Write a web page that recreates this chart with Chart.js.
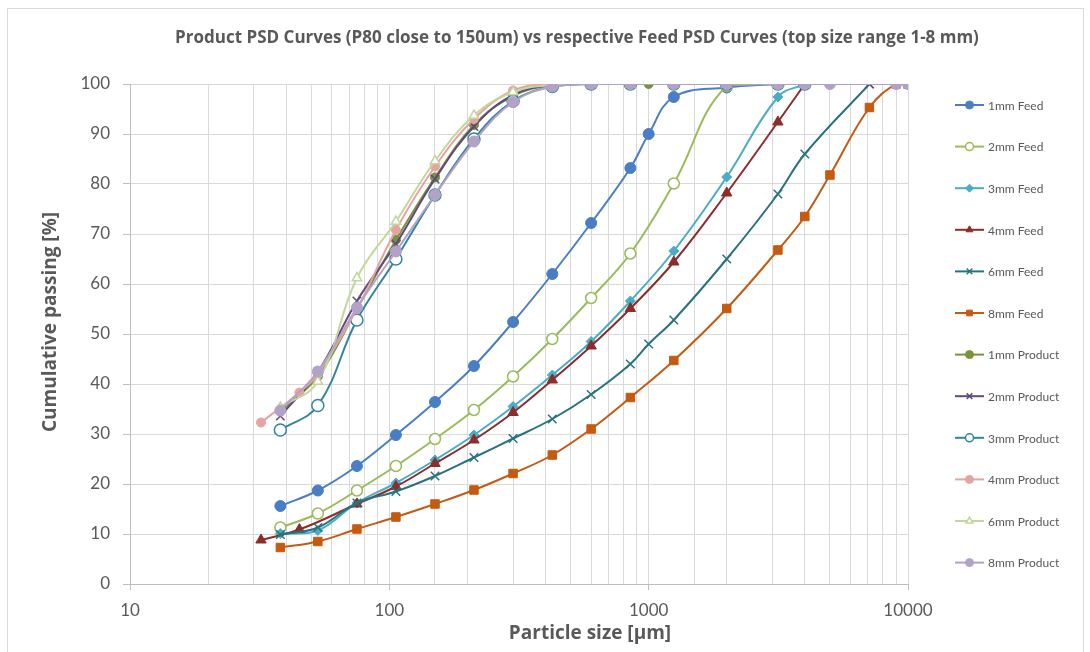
<!DOCTYPE html>
<html>
<head>
<meta charset="utf-8">
<title>PSD Curves</title>
<script src="https://cdn.jsdelivr.net/npm/chart.js@4/dist/chart.umd.min.js"></script>
<style>
  html, body { margin: 0; padding: 0; background: #fff; }
  #wrap { position: relative; width: 1090px; height: 652px; }
</style>
</head>
<body>
<div id="wrap"><canvas id="psdChart"></canvas></div>
<script>
// ── Data ──
const N = null;
const SIEVES = [32, 38, 45, 53, 75, 106, 150, 212, 300, 425, 600, 850, 1000, 1250, 2000, 3150, 4000, 5000, 7100, 9000, 10000];

const feed1mm = [N, 15.6, N, 18.7, 23.6, 29.8, 36.4, 43.6, 52.4, 62.0, 72.2, 83.2, 90.0, 97.4, 99.3, 100, N, N, N, N, N];
const feed2mm = [N, 11.3, N, 14.1, 18.7, 23.6, 29.0, 34.8, 41.5, 49.0, 57.2, 66.1, N, 80.1, 99.6, 100, 100, N, N, N, N];
const feed3mm = [N, 10.1, N, 10.7, 16.2, 20.2, 24.8, 29.8, 35.5, 41.8, 48.5, 56.6, N, 66.6, 81.4, 97.4, 100, N, N, N, N];
const feed4mm = [8.8, N, 10.9, N, 16.0, 19.5, 24.1, 28.8, 34.3, 40.8, 47.6, 55.1, N, 64.4, 78.2, 92.4, 100, N, N, N, N];
const feed6mm = [N, 9.9, N, 11.3, 16.2, 18.5, 21.6, 25.3, 29.1, 33.0, 37.9, 44.0, 48.0, 52.8, 65.0, 78.0, 86.0, N, 100, N, N];
const feed8mm = [N, 7.3, N, 8.5, 11.0, 13.4, 16.0, 18.8, 22.1, 25.8, 31.0, 37.3, N, 44.7, 55.1, 66.8, 73.5, 81.8, 95.3, 100, 100];

const prod1mm = [N, 34.5, N, 41.5, 55.0, 68.8, 81.3, 91.8, 97.6, 99.8, 100, 100, 100, N, N, N, N, N, N, N, N];
const prod2mm = [N, 33.6, N, 42.4, 56.6, 68.0, 81.0, 91.5, 97.8, 99.8, 100, 100, N, 100, 100, 100, 100, N, 100, N, N];
const prod3mm = [N, 30.8, N, 35.7, 52.8, 65.0, 77.8, 89.0, 96.6, 99.5, 100, 100, N, 100, 100, 100, 100, N, N, N, N];
const prod4mm = [32.3, N, 38.3, 42.0, 55.0, 70.8, 83.5, 93.0, 98.7, 100, 100, 100, N, 100, 100, 100, 100, N, N, N, N];
const prod6mm = [N, 35.3, N, 40.5, 61.2, 72.5, 84.6, 93.7, 98.4, 99.8, 100, 100, N, 100, 100, 100, 100, N, N, N, N];
const prod8mm = [N, 34.7, N, 42.5, 55.3, 66.5, 77.8, 88.5, 96.4, 99.5, 100, 100, N, 100, 100, 100, 100, 100, N, 100, 100];

const SERIES = [
  { label: '1mm Feed',    values: feed1mm, color: '#4a7ec4', style: 'circle',   r: 5.5, fill: true },
  { label: '2mm Feed',    values: feed2mm, color: '#9bbb59', style: 'circle',   r: 5.5, fill: false },
  { label: '3mm Feed',    values: feed3mm, color: '#4bacc6', style: 'rectRot',  r: 5,   fill: true },
  { label: '4mm Feed',    values: feed4mm, color: '#8b2d2b', style: 'triangle', r: 6,   fill: true },
  { label: '6mm Feed',    values: feed6mm, color: '#28737f', style: 'crossRot', r: 6,   fill: true },
  { label: '8mm Feed',    values: feed8mm, color: '#c55a11', style: 'rect',     r: 6,   fill: true },
  { label: '1mm Product', values: prod1mm, color: '#77933c', style: 'circle',   r: 4.5, fill: true },
  { label: '2mm Product', values: prod2mm, color: '#604a7b', style: 'crossRot', r: 6,   fill: true },
  { label: '3mm Product', values: prod3mm, color: '#31859c', style: 'circle',   r: 6,   fill: false },
  { label: '4mm Product', values: prod4mm, color: '#e6a3a1', style: 'circle',   r: 4.5, fill: true },
  { label: '6mm Product', values: prod6mm, color: '#c3d69b', style: 'triangle', r: 5.5, fill: false },
  { label: '8mm Product', values: prod8mm, color: '#b3a2c7', style: 'circle',   r: 5.5, fill: true },
];

const TEXT_COLOR = '#595959';
const GRID_COLOR = '#d9d9d9';
const FONT = 'Lato, "Open Sans", sans-serif';
const TITLE_FONT = '"Open Sans", Lato, sans-serif';

function toPoints(values) {
  const pts = [];
  for (let i = 0; i < SIEVES.length; i++) {
    if (values[i] !== null) {
      pts.push({ x: SIEVES[i], y: values[i] });
    }
  }
  return pts;
}

function buildDatasets() {
  return SERIES.map((s, idx) => ({
    label: s.label,
    data: toPoints(s.values),
    borderColor: s.color,
    backgroundColor: s.fill ? s.color : '#ffffff',
    pointBackgroundColor: s.fill ? s.color : '#ffffff',
    pointBorderColor: s.color,
    pointStyle: s.style,
    pointRadius: s.r,
    pointBorderWidth: s.style === 'crossRot' ? 1.5 : (s.fill ? 1 : 1.5),
    borderWidth: 2,
    tension: 0.4,
    fill: false,
    // later series sit on top, like the spreadsheet
    order: SERIES.length - idx,
  }));
}

// ── Title, axis titles, side legend, frame ──
const decorPlugin = {
  id: 'decor',
  afterDraw(chart) {
    const ctx = chart.ctx;
    ctx.save();

    // outer frame
    ctx.strokeStyle = GRID_COLOR;
    ctx.lineWidth = 1;
    ctx.strokeRect(7.5, 8.5, 1076, 660);

    ctx.fillStyle = TEXT_COLOR;
    ctx.textAlign = 'center';
    ctx.textBaseline = 'middle';
    ctx.font = 'bold 17px ' + TITLE_FONT;
    ctx.fillText('Product PSD Curves (P80 close to 150um) vs respective Feed PSD Curves (top size range 1-8 mm)', 577, 38);

    ctx.font = 'bold 19px ' + TITLE_FONT;
    ctx.fillText('Particle size [µm]', 590, 634);

    ctx.save();
    ctx.translate(51, 322);
    ctx.rotate(-Math.PI / 2);
    ctx.fillText('Cumulative passing [%]', 0, 0);
    ctx.restore();

    // legend
    ctx.textAlign = 'left';
    ctx.font = '12px ' + FONT;
    chart.data.datasets.forEach((ds, i) => {
      const y = 105 + i * 41.6;
      ctx.strokeStyle = ds.borderColor;
      ctx.lineWidth = 2;
      ctx.beginPath();
      ctx.moveTo(955, y);
      ctx.lineTo(984, y);
      ctx.stroke();
      ctx.fillStyle = ds.pointBackgroundColor;
      ctx.strokeStyle = ds.pointBorderColor;
      ctx.lineWidth = ds.pointBorderWidth;
      if (Chart.helpers && Chart.helpers.drawPoint) {
        Chart.helpers.drawPoint(ctx, { pointStyle: ds.pointStyle, radius: Math.min(ds.pointRadius, 4), rotation: 0, borderWidth: ds.pointBorderWidth }, 969.5, y);
      }
      ctx.fillStyle = TEXT_COLOR;
      ctx.fillText(ds.label, 988, y + 1);
    });

    ctx.restore();
  }
};

// ── Chart ──
function initChart() {
  const ctx = document.getElementById('psdChart').getContext('2d');
  new Chart(ctx, {
    type: 'line',
    data: { datasets: buildDatasets() },
    options: {
      responsive: true,
      maintainAspectRatio: false,
      animation: false,
      layout: { padding: { left: 0, right: 182, top: 84, bottom: 0 } },
      plugins: {
        legend: { display: false },
        title: { display: false },
        tooltip: { enabled: true },
      },
      scales: {
        x: {
          type: 'logarithmic',
          min: 10,
          max: 10000,
          afterFit: scale => { scale.height = 68; },
          grid: {
            color: GRID_COLOR,
            tickLength: 6,
            tickColor: c => (c.tick && isDecade(c.tick.value)) ? '#bfbfbf' : 'rgba(0,0,0,0)',
          },
          border: { color: '#bfbfbf' },
          ticks: {
            autoSkip: false,
            maxRotation: 0,
            padding: 10,
            color: TEXT_COLOR,
            font: { family: FONT, size: 17 },
            callback: v => isDecade(v) ? String(v) : '',
          },
        },
        y: {
          min: 0,
          max: 100,
          afterFit: scale => { scale.width = 130; },
          grid: { color: GRID_COLOR, tickLength: 7, tickColor: '#bfbfbf' },
          border: { color: '#bfbfbf' },
          ticks: {
            stepSize: 10,
            padding: 13,
            color: TEXT_COLOR,
            font: { family: FONT, size: 17 },
          },
        },
      },
    },
    plugins: [decorPlugin],
  });
}

function isDecade(v) {
  const l = Math.log10(v);
  return Math.abs(l - Math.round(l)) < 1e-9;
}

initChart();
</script>
</body>
</html>
